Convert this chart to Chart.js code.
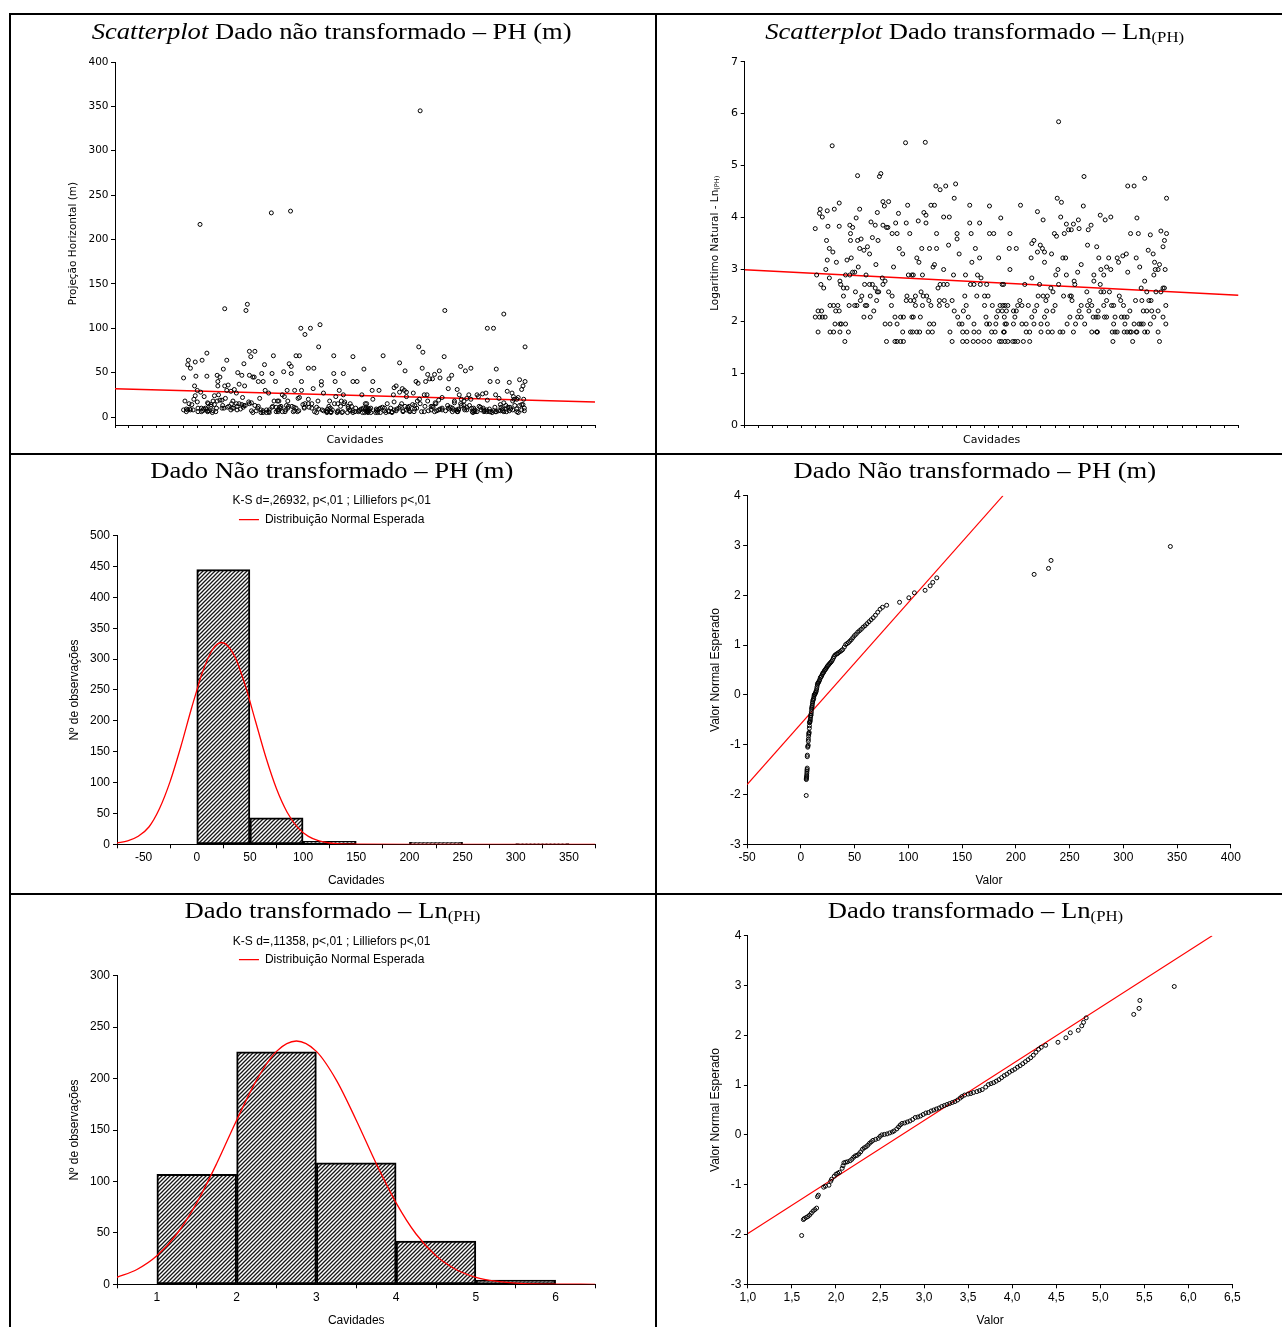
<!DOCTYPE html>
<html lang="pt">
<head>
<meta charset="utf-8">
<title>PH – scatterplots, histogramas e gráficos de probabilidade normal</title>
<script src="https://cdn.jsdelivr.net/npm/chart.js@4.4.1/dist/chart.umd.min.js"></script>
<style>
html,body{margin:0;padding:0;background:#fff;}
body{width:1282px;height:1327px;position:relative;overflow:hidden;}
canvas{position:absolute;}
.bd{position:absolute;background:#000;}
.ttl{position:absolute;white-space:nowrap;font-family:'Liberation Serif','Times New Roman',serif;line-height:1;color:#000;transform-origin:50% 50%;}
.sub{font-size:0.63em;position:relative;top:3px;}
</style>
</head>
<body>
<script>
// ================= DATA =================
// Scatterplots: case number (Cavidades) and horizontal projection PH (m)
const caseNo = [
 0,0,2,4,4,6,6,7,8,9, 10,10,12,14,15,16,17,17,18,20, 20,21,21,24,25,26,26,27,28,29,
 30,32,34,34,34,35,35,35,36,37, 40,40,42,43,43,45,45,47,48,49, 49,50,50,51,53,53,56,56,57,58,
 59,60,60,61,63,63,64,65,66,69, 69,70,71,72,73,74,77,77,78,78, 79,81,81,83,85,85,86,87,88,88,
 89,90,91,93,95,96,96,96,98,99, 99,101,101,103,104,104,106,108,109,109, 111,113,113,114,116,116,116,118,119,121,
 121,124,124,125,125,128,129,129,130,131, 132,134,135,135,137,137,
 156,171,177,185,199,197,164,169,154,157, 146,157,182,190,219,247,219,233,263,172,
 201,201,221,247,253,151,162,172,189,227, 204,144,147,233,222,260,169,167,182,139,
 152,196,213,230,235,174,177,182,187,220, 225,234,243,265,150,153,158,142,140,161,
 176,183,194,212,229,240,245,142,152,164, 176,187,214,240,251,262,269,197,210,259,
 265,139,149,202,217,242,257,268,162,168, 204,208,225,243,247,256,138,144,148,160,
 166,191,209,215,225,232,250,255,267,194, 209,215,224,231,239,247,261,269,
 381,343,349,291,315,323,380,348,356,366, 373,391,363,359,374,387,276,339,342,353,
 275,285,310,307,319,322,386,399,276,315, 325,335,306,325,351,355,377,344,341,356,
 372,395,307,367,368,395,267,297,318,345, 334,337,385,316,323,329,352,361,363,327,
 364,389,290,287,293,302,314,340,377,386, 273,266,392,271,281,311,328,337,374,388,
 285,283,307,325,361,372,377,394,398,271, 269,281,293,299,310,320,329,357,369,382,
 268,299,304,320,330,336,347,351,366,392, 399,264,273,280,283,287,295,304,345,
 467,443,452,498,404,411,419,456,447,458, 475,490,498,495,493,472,479,402,416,428,
 436,441,455,430,481,488,405,413,419,460, 482,486,496,443,480,409,404,467,462,493,
 495,483,490,470,405,409,417,431,433,473, 413,454,463,476,409,420,423,437,497,446,
 465,470,477,486,401,493,401,410,413,425, 434,438,442,480,452,459,462,423,439,465,
 475,497,400,421,425,428,438,442,448,455, 467,471,486,446,450,456,422,488
];
const phM = [
 44,8,18,9,6,8,59,64,15,9, 55,8,14,8,20,35,24,62,46,30, 17,10,6,217,28,10,6,64,7,9,
 23,10,72,46,9,16,7,6,15,7, 14,12,5,18,7,24,14,6,10,47, 18,40,35,25,45,19,19,10,13,54,
 10,122,35,21,64,30,11,36,12,29, 8,15,10,18,10,31,27,15,12,8, 50,37,15,9,47,14,22,11,60,13,
 35,13,120,127,17,74,47,15,68,16, 7,5,45,45,74,13,7,10,40,12, 21,8,5,49,40,7,5,59,30,8,
 5,6,27,8,5,230,49,11,12,69, 18,40,6,11,18,8,
 232,100,93,100,104,79,69,69,60,57, 51,49,55,55,69,68,49,49,54,40,
 40,36,40,40,40,30,30,30,32,30, 27,25,23,25,23,25,22,21,20,18,
 18,18,18,18,17,14,15,15,15,15, 15,15,15,15,13,12,12,12,11,11,
 11,11,11,12,12,12,12,10,10,10, 10,10,10,10,10,10,10,9,9,9,
 9,8,8,8,8,8,8,8,7,7, 7,7,7,7,7,7,6,6,6,6,
 6,6,6,6,6,6,6,6,6,5, 5,5,5,5,5,5,5,5,
 120,79,73,69,61,52,68,55,48,48, 52,47,43,43,44,43,40,40,38,40,
 30,30,35,33,32,30,32,31,20,28, 28,27,25,23,25,25,22,20,18,18,
 19,18,17,16,15,16,15,15,15,15, 14,13,13,12,12,12,12,12,12,11,
 11,11,11,10,10,10,10,10,10,10, 10,10,10,9,9,9,9,9,9,9,
 9,8,8,8,8,8,8,8,8,7, 7,7,7,7,7,7,7,7,7,7,
 6,6,6,6,6,6,6,6,6,6, 6,5,5,5,5,5,5,5,345,
 116,100,100,79,57,52,55,54,40,40, 39,42,40,35,31,29,27,25,25,25,
 26,27,25,23,23,22,20,21,20,21, 20,20,20,19,18,18,15,16,14,14,
 14,13,13,13,13,13,13,12,11,11, 11,11,11,11,10,10,10,10,10,9,
 9,9,9,9,9,8,8,8,8,8, 8,8,8,8,7,7,7,7,7,7,
 7,7,6,6,6,6,6,6,6,6, 6,6,6,6,5,6,5,5
];
// fitted regression lines (end points)
const rawRegX = [-100, 600];
const rawRegY = [31.9, 16.9];
const lnRegX = [-100, 600];
const lnRegY = [2.99, 2.50];
const rawScatterYTicks = [0,50,100,150,200,250,300,350,400];
const lnScatterYTicks = [0,1,2,3,4,5,6,7];

// Histogram – untransformed PH (m)
const rawBinCenters = [25,75,125,175,225,275,325];
const rawBinCounts  = [445,43,5,0,3,0,1];
const rawCurveX = [-75,-65,-55,-45,-35,-25,-15,-5,0,5,15,23.5,35,45,55,65,75,85,95,105,115,125,135,150,200,250,300,375];
const rawCurveY = [2.0,5.5,13,28,58,102,158,220,249,277,316,327,307,261,201,141,90,52,27,12.8,5.5,2.1,0.7,0.1,0,0,0,0];
const rawHistXTicks = [-50,0,50,100,150,200,250,300,350];
const rawHistYTicks = [0,50,100,150,200,250,300,350,400,450,500];
const ksRaw = 'K-S d=,26932, p<,01 ; Lilliefors p<,01';

// Histogram – Ln(PH)
const lnBinCenters = [1.5,2.5,3.5,4.5,5.5];
const lnBinCounts  = [107,226,118,42,4];
const lnCurveX = [0.5,0.75,1,1.25,1.5,1.75,2,2.25,2.5,2.75,3,3.25,3.5,3.75,4,4.25,4.5,4.75,5,5.25,5.5,5.75,6,6.25,6.5];
const lnCurveY = [6.8,14.4,27.7,48.9,79.2,117.4,159.5,198.5,226.4,236.5,226.4,198.5,159.5,117.4,79.2,48.9,27.7,14.4,6.8,3.0,1.2,0.4,0.15,0.05,0];
const lnHistXTicks = [1,2,3,4,5,6];
const lnHistYTicks = [0,50,100,150,200,250,300];
const ksLn = 'K-S d=,11358, p<,01 ; Lilliefors p<,01';

// Normal probability plots: observed Ln(PH) and expected normal value
const qqLnPH = [
 1.61,1.63,1.64,1.66,1.68,1.70,1.72,1.74,1.76,1.78, 1.79,1.80,1.86,1.88,1.92,1.94,1.95,1.98,2.00,2.02,
 2.04,2.07,2.08,2.09,2.11,2.13,2.16,2.18,2.20,2.22, 2.24,2.26,2.28,2.30,2.32,2.34,2.36,2.38,2.40,2.42,
 2.45,2.48,2.50,2.52,2.55,2.58,2.61,2.64,2.66,2.69, 2.71,2.73,2.75,2.78,2.81,2.84,2.87,2.90,2.93,2.96,
 2.99,3.02,3.05,3.08,3.11,3.14,3.17,3.20,3.23,3.26, 3.29,3.32,3.35,3.38,3.41,3.43,3.46,3.50,3.53,3.56,
 3.60,3.63,3.66,3.70,3.73,3.76,3.79,3.82,3.85,3.88, 3.91,3.94,3.97,4.00,4.03,4.06,4.09,4.12,4.15,4.18,
 4.21,4.24,4.27,4.30,4.33,4.38,4.52,4.61,4.66,4.75, 4.79,4.81,4.84,5.38,5.44,5.45,5.84
];
const qqZ = [
 -2.02,-1.70,-1.68,-1.66,-1.64,-1.61,-1.57,-1.53,-1.50,-1.47, -1.24,-1.21,-1.05,-1.03,-1.01,-0.93,-0.89,-0.83,-0.79,-0.77,
 -0.75,-0.67,-0.62,-0.56,-0.55,-0.54,-0.52,-0.49,-0.45,-0.42, -0.41,-0.38,-0.34,-0.29,-0.26,-0.24,-0.21,-0.17,-0.14,-0.11,
 -0.09,-0.07,-0.03,0.00,0.01,0.02,0.04,0.06,0.08,0.12, 0.16,0.20,0.23,0.24,0.26,0.28,0.31,0.35,0.36,0.38,
 0.41,0.44,0.45,0.48,0.50,0.52,0.54,0.57,0.59,0.61, 0.63,0.65,0.67,0.70,0.74,0.77,0.80,0.82,0.83,0.85,
 0.87,0.89,0.91,0.96,1.01,1.03,1.05,1.08,1.11,1.15, 1.19,1.22,1.26,1.29,1.32,1.36,1.39,1.43,1.47,1.51,
 1.55,1.60,1.66,1.72,1.76,1.80,1.86,1.95,2.05,2.10, 2.19,2.26,2.35,2.42,2.54,2.70,2.98
];
const qqRawLineX = [-50, 188.1];
const qqRawLineY = [-1.80, 4.0];
const qqLnLineX = [1.0, 6.27];
const qqLnLineY = [-1.98, 4.0];
const qqRawXTicks = [-50,0,50,100,150,200,250,300,350,400];
const qqLnXTicks = [1,1.5,2,2.5,3,3.5,4,4.5,5,5.5,6,6.5];
const qqYTicks = [-3,-2,-1,0,1,2,3,4];

// ================= HELPERS =================
const F_SANS = "'Liberation Sans', Arial, sans-serif";
const F_DJ = "'DejaVu Sans', sans-serif";
Chart.defaults.font.family = F_SANS;
Chart.defaults.color = '#000';

function mkCanvas(cell){
  const c = document.createElement('canvas');
  c.width = cell.w; c.height = cell.h;
  c.style.left = cell.x + 'px'; c.style.top = cell.y + 'px';
  document.body.appendChild(c);
  return c;
}
// compute padding / axis sizes so that the plot area lands where it is in the reference
function frame(cell, area, yTitleX, yLH, xTitleY, xLH, topPad){
  const relL = area.left - cell.x, relR = area.right - cell.x;
  const relT = area.top - cell.y, relB = area.bottom - cell.y;
  const padLeft = yTitleX - cell.x - yLH/2;
  const yW = relL - padLeft;
  const xH = (xTitleY - cell.y) - relB + xLH/2;
  return {padding:{left:padLeft, right:cell.w - relR, top:(topPad!=null?topPad:relT), bottom:cell.h - relB - xH}, yW, xH};
}
function axis(o){
  return {
    type:'linear', min:o.min, max:o.max, offset:false,
    afterBuildTicks: o.ticks ? (s)=>{ s.ticks = o.ticks.map(v=>({value:v})); } : undefined,
    afterFit: (s)=>{ if (o.w!=null) s.width = o.w; if (o.h!=null) s.height = o.h; },
    ticks:{display:o.labels!==false, stepSize:o.step, autoSkip:false, maxRotation:0, padding:o.pad||0,
           font:o.font, color:'#000', callback:o.cb || (v=>String(v))},
    grid:{display:true, drawOnChartArea:false, drawTicks:true, tickLength:o.tl, color:'#000', tickColor:'#000', tickWidth:1},
    border:{display:true, color:'#000', width:1},
    title: o.title ? {display:true, text:o.title, font:o.tfont, color:'#000', padding:0} : {display:false}
  };
}
function baseOptions(fr, xAx, yAx, plugins){
  return {
    responsive:false, animation:false, devicePixelRatio:1, events:[],
    layout:{padding:fr.padding},
    scales:{x:xAx, y:yAx},
    plugins:Object.assign({legend:{display:false}, tooltip:{enabled:false}, title:{display:false}}, plugins||{})
  };
}
function pts(xs, ys){ return xs.map((x,i)=>({x:x, y:ys[i]})); }
function hatch(){
  const c = document.createElement('canvas'); c.width = 4; c.height = 4;
  const g = c.getContext('2d');
  g.fillStyle = '#ffffff'; g.fillRect(0,0,4,4);
  g.strokeStyle = '#161616'; g.lineWidth = 1.3;
  g.beginPath();
  g.moveTo(0,4); g.lineTo(4,0);
  g.moveTo(-1,1); g.lineTo(1,-1);
  g.moveTo(3,5); g.lineTo(5,3);
  g.stroke();
  return g.createPattern(c,'repeat');
}
function addTitle(html, cx, base, size, targetW){
  const el = document.createElement('div');
  el.className = 'ttl'; el.style.fontSize = size + 'px'; el.innerHTML = html;
  document.body.appendChild(el);
  const w = el.getBoundingClientRect().width;
  el.style.left = (cx - w/2) + 'px';
  el.style.top = (base - 0.8375*size) + 'px';
  el.style.transform = 'scaleX(' + (targetW / w).toFixed(4) + ')';
}
const pointStyle = {pointRadius:2, pointBorderWidth:1, borderColor:'#000', backgroundColor:'rgba(0,0,0,0)', pointHoverRadius:2};

// ================= PANEL 1: scatter PH (m) =================
{
  const cell = {x:11, y:15, w:643, h:438};
  const fr = frame(cell, {left:115, right:595, top:62, bottom:425}, 73.5, 12.6, 440, 13.2);
  const c = mkCanvas(cell);
  new Chart(c, {
    type:'scatter',
    data:{datasets:[
      Object.assign({type:'scatter', data:pts(caseNo, phM), order:1}, pointStyle),
      {type:'line', data:pts(rawRegX, rawRegY), borderColor:'#ff0000', borderWidth:1.6, pointRadius:0, order:2}
    ]},
    options: baseOptions(fr,
      axis({min:-100, max:600, step:20, labels:false, tl:3, h:fr.xH, title:'Cavidades', tfont:{family:F_DJ, size:11}}),
      axis({min:-9, max:400, ticks:rawScatterYTicks, tl:4, pad:2.5, w:fr.yW, font:{family:F_DJ, size:10.5},
            title:'Projeção Horizontal (m)', tfont:{family:F_DJ, size:10.5}}))
  });
}
// ================= PANEL 2: scatter Ln(PH) =================
{
  const cell = {x:656, y:15, w:626, h:438};
  const fr = frame(cell, {left:744.7, right:1238.5, top:61.7, bottom:425}, 656+50+6.6, 13.2, 440, 13.2);
  const c = mkCanvas(cell);
  // y-axis title with subscript, drawn on the chart canvas
  const lnTitlePlugin = {
    id:'lnYTitle',
    afterDraw(chart){
      const ctx = chart.ctx, a = chart.chartArea;
      const main = 'Logaritimo Natural - Ln', sub = '(PH)';
      ctx.save();
      ctx.translate(715.3 - cell.x, (a.top + a.bottom) / 2);
      ctx.rotate(-Math.PI / 2);
      ctx.fillStyle = '#000';
      ctx.textBaseline = 'middle';
      ctx.textAlign = 'left';
      ctx.font = "10.5px 'DejaVu Sans'";
      const wm = ctx.measureText(main).width;
      ctx.font = "6.5px 'DejaVu Sans'";
      const ws = ctx.measureText(sub).width;
      const x0 = -(wm + ws) / 2;
      ctx.font = "10.5px 'DejaVu Sans'";
      ctx.fillText(main, x0, 0);
      ctx.font = "6.5px 'DejaVu Sans'";
      ctx.fillText(sub, x0 + wm, 2);
      ctx.restore();
    }
  };
  new Chart(c, {
    type:'scatter',
    data:{datasets:[
      Object.assign({type:'scatter', data:caseNo.map((x,i)=>({x:x, y:Math.log(phM[i])})), order:1}, pointStyle),
      {type:'line', data:pts(lnRegX, lnRegY), borderColor:'#ff0000', borderWidth:1.4, pointRadius:0, order:2}
    ]},
    options: baseOptions(fr,
      axis({min:-100, max:600, step:20, labels:false, tl:3, h:fr.xH, title:'Cavidades', tfont:{family:F_DJ, size:11}}),
      axis({min:0, max:7, ticks:lnScatterYTicks, tl:4, pad:2.8, w:fr.yW, font:{family:F_DJ, size:11}})),
    plugins:[lnTitlePlugin]
  });
}
// ================= PANEL 3: histogram PH (m) =================
const HATCH = hatch();
function histogram(cell, area, topPad, tpBottom, centers, counts, cx, cy, xT, yT, xMin, xMax, yMax, ks){
  const fr = frame(cell, area, cell.x + 64, 14.4, cell.y + 426, 14.4, topPad);
  const c = mkCanvas(cell);
  new Chart(c, {
    type:'bar',
    data:{datasets:[
      {type:'bar', label:'Nº de observações', data:pts(centers, counts), backgroundColor:HATCH, borderColor:'#000',
       borderWidth:2, borderSkipped:false, barPercentage:1, categoryPercentage:1, order:1},
      {type:'line', label:'Distribuição Normal Esperada', data:pts(cx, cy), borderColor:'#ff0000', borderWidth:1.3,
       pointRadius:0, pointStyle:'line', cubicInterpolationMode:'monotone', order:0}
    ]},
    options: baseOptions(fr,
      axis({min:xMin, max:xMax, ticks:xT, tl:4, pad:1.8, h:fr.xH, font:{size:12}, title:'Cavidades', tfont:{size:12}}),
      axis({min:0, max:yMax, ticks:yT, tl:4, pad:3, w:fr.yW, font:{size:12}, title:'Nº de observações', tfont:{size:12}}),
      {
        title:{display:true, text:ks, font:{size:12, weight:'normal', family:F_SANS}, color:'#000', padding:{top:0, bottom:tpBottom}},
        legend:{display:true, position:'top', labels:{filter:(it)=>it.datasetIndex===1, usePointStyle:true, pointStyle:'line',
                pointStyleWidth:20, boxHeight:12, padding:4, color:'#000', font:{size:12, family:F_SANS}}}
      })
  });
}
histogram({x:11, y:455, w:643, h:438}, {left:117, right:595.5, top:535.7, bottom:844.3}, 38.8, 1.5,
  rawBinCenters, rawBinCounts, rawCurveX, rawCurveY, rawHistXTicks, rawHistYTicks, -75, 375, 500, ksRaw);
// ================= PANEL 5: histogram Ln(PH) =================
histogram({x:11, y:895, w:643, h:440}, {left:117, right:595.5, top:975.7, bottom:1284.3}, 39.5, 0.8,
  lnBinCenters, lnBinCounts, lnCurveX, lnCurveY, lnHistXTicks, lnHistYTicks, 0.5, 6.5, 300, ksLn);

// ================= PANELS 4 & 6: normal probability plots =================
function qq(cell, area, xs, lineX, lineY, xMin, xMax, xT, cb){
  const fr = frame(cell, area, 715.7, 14.4, cell.y + 426, 14.4);
  const c = mkCanvas(cell);
  new Chart(c, {
    type:'scatter',
    data:{datasets:[
      Object.assign({type:'scatter', data:pts(xs, qqZ), order:1}, pointStyle),
      {type:'line', data:pts(lineX, lineY), borderColor:'#ff0000', borderWidth:1.1, pointRadius:0, order:2}
    ]},
    options: baseOptions(fr,
      axis({min:xMin, max:xMax, ticks:xT, tl:4, pad:1.8, h:fr.xH, font:{size:12}, cb:cb, title:'Valor', tfont:{size:12}}),
      axis({min:-3, max:4, ticks:qqYTicks, tl:4, pad:2.4, w:fr.yW, font:{size:12}, title:'Valor Normal Esperado', tfont:{size:12}}))
  });
}
qq({x:656, y:455, w:626, h:438}, {left:747.1, right:1230.8, top:495.7, bottom:844.3},
   qqLnPH.map(v=>Math.exp(v)), qqRawLineX, qqRawLineY, -50, 400, qqRawXTicks, null);
qq({x:656, y:895, w:626, h:440}, {left:747.9, right:1232.4, top:935.7, bottom:1284.3},
   qqLnPH, qqLnLineX, qqLnLineY, 1, 6.5, qqLnXTicks, (v)=>v.toFixed(1).replace('.', ','));

// ================= TABLE BORDERS =================
[[9,13,2,1314],[9,13,1273,2],[655,13,2,1314],[9,453,1273,2],[9,893,1273,2]].forEach(b=>{
  const d = document.createElement('div'); d.className = 'bd';
  d.style.left = b[0]+'px'; d.style.top = b[1]+'px'; d.style.width = b[2]+'px'; d.style.height = b[3]+'px';
  document.body.appendChild(d);
});

// ================= PANEL TITLES =================
addTitle('<i>Scatterplot</i> Dado não transformado – PH (m)', 332, 39.3, 24, 480);
addTitle('<i>Scatterplot</i> Dado transformado – Ln<span class="sub">(PH)</span>', 974.5, 39.3, 24, 419);
addTitle('Dado Não transformado – PH (m)', 332, 478.3, 23, 363);
addTitle('Dado Não transformado – PH (m)', 974.5, 478.3, 23, 362.7);
addTitle('Dado transformado – Ln<span class="sub">(PH)</span>', 332, 918.3, 23, 296);
addTitle('Dado transformado – Ln<span class="sub">(PH)</span>', 975, 918.3, 23, 295.5);
</script>
</body>
</html>
